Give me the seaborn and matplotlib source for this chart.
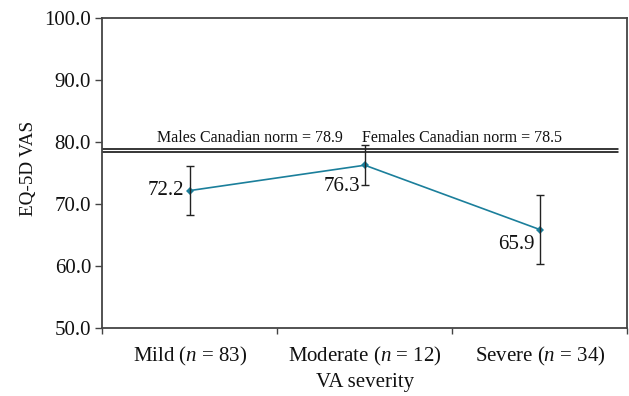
import matplotlib
matplotlib.use("Agg")
import matplotlib.pyplot as plt
from matplotlib.ticker import FixedLocator, FuncFormatter
import seaborn as sns
import pandas as pd

# Mean EQ-5D VAS by visual-acuity severity group
categories = ["Mild ($n$ = 83)", "Moderate ($n$ = 12)", "Severe ($n$ = 34)"]
means = [72.2, 76.3, 65.9]
ci_half = [3.9, 3.2, 5.6]
value_labels = ["72.2", "76.3", "65.9"]

# Canadian population norms
norm_values = [78.9, 78.5]
norm_labels = ["Males Canadian norm = 78.9", "Females Canadian norm = 78.5"]

y_ticks = [50, 60, 70, 80, 90, 100]

sns.set_theme(style="white")
plt.rcParams["font.family"] = ["Liberation Serif", "DejaVu Serif"]
plt.rcParams["mathtext.fontset"] = "custom"
plt.rcParams["mathtext.rm"] = "Liberation Serif"
plt.rcParams["mathtext.it"] = "Liberation Serif:italic"

teal = "#1b7f9b"
spine_col = "#444444"
text_col = "#111111"

df = pd.DataFrame({"group": categories, "vas": means})

fig = plt.figure(figsize=(6.29, 3.96), dpi=100)
ax = fig.add_axes([0.1625, 0.1717, 0.835, 0.7816])

sns.lineplot(data=df, x="group", y="vas", ax=ax, color=teal, lw=1.2,
             marker="D", markersize=4, markeredgewidth=0, sort=False)
xpos = list(range(len(categories)))
ax.errorbar(xpos, means, yerr=ci_half, fmt="none", ecolor="#222222",
            elinewidth=1.0, capsize=3, capthick=1.0, zorder=3)

# norm reference lines
for v in norm_values:
    ax.axhline(v, xmin=0, xmax=0.982, color="black", lw=1.1, zorder=2)
ax.text(0.342, 80.7, norm_labels[0], ha="center", va="center", fontsize=11.5,
        color=text_col)
ax.text(1.553, 80.7, norm_labels[1], ha="center", va="center", fontsize=11.5,
        color=text_col)

# value labels next to each point
offsets = [(-4, 0), (-3, -15), (-4, -11)]
for x, m, lab, off in zip(xpos, means, value_labels, offsets):
    ax.annotate(lab, (x, m), xytext=off, textcoords="offset points",
                ha="right", va="center", fontsize=15, color=text_col)

ax.set_xlim(-0.5, 2.5)
ax.set_ylim(50, 100)
ax.yaxis.set_major_locator(FixedLocator(y_ticks))
ax.yaxis.set_major_formatter(FuncFormatter(lambda v, p: f"{v:.1f}"))

# tick marks between categories, labels centred on categories
ax.xaxis.set_major_locator(FixedLocator([-0.5, 0.5, 1.5, 2.5]))
ax.xaxis.set_major_formatter(FuncFormatter(lambda v, p: ""))
ax.xaxis.set_minor_locator(FixedLocator(xpos))
ax.xaxis.set_minor_formatter(FuncFormatter(lambda v, p: categories[int(round(v))]))
ax.tick_params(axis="x", which="major", direction="out", length=4, width=1,
               color=spine_col, bottom=True)
ax.tick_params(axis="x", which="minor", length=0, labelsize=15, pad=12,
               labelcolor=text_col)
ax.tick_params(axis="y", direction="out", length=5, width=1, color=spine_col,
               left=True, labelsize=15, pad=3, labelcolor=text_col)

ax.set_xlabel("VA severity", fontsize=15, labelpad=4, color=text_col)
ax.set_ylabel("EQ-5D VAS", fontsize=13.8, color=text_col)
ax.yaxis.set_label_coords(-0.124, 0.515)

for s in ax.spines.values():
    s.set_color(spine_col)
    s.set_linewidth(1.3)
    s.set_visible(True)

fig.savefig("out.png", dpi=100, facecolor="white")
